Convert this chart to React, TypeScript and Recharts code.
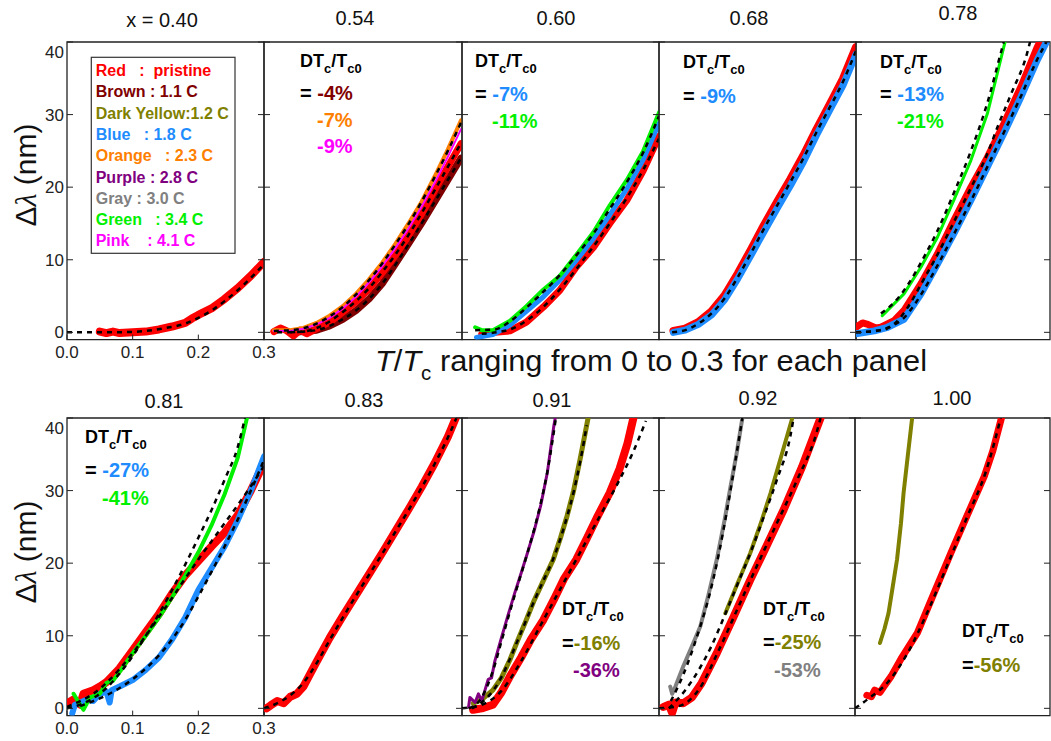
import React from 'react';
import { LineChart, Line, XAxis, YAxis, ReferenceArea } from 'recharts';

// ── Data (x = T/Tc, y = Δλ in nm) ─────────────────────────

const Y_TICKS = [0, 10, 20, 30, 40];
const X_TICKS = [0, 0.1, 0.2, 0.3];

// x = 0.40
const P040_RED = [[0.05,0.1],[0.06,-0.1],[0.07,0.1],[0.08,-0.1],[0.1,0],[0.12,0.1],[0.14,0.4],[0.16,0.8],[0.18,1.3],[0.19,1.9],[0.2,2.4],[0.22,3.3],[0.24,4.6],[0.26,6.1],[0.28,7.8],[0.3,9.7]];
const P040_FIT = [[0,0],[0.06,0],[0.1,0.05],[0.12,0.2],[0.15,0.6],[0.18,1.2],[0.2,2],[0.22,3],[0.24,4.3],[0.26,5.8],[0.28,7.5],[0.3,9.4]];

// x = 0.54
const P054_BROWN = [[0.045,0],[0.06,0.1],[0.08,0.3],[0.1,0.9],[0.12,1.8],[0.14,3],[0.16,4.6],[0.18,6.7],[0.2,9.4],[0.22,12.2],[0.24,15],[0.26,18],[0.28,21],[0.3,24]];
const P054_RED = [[0.015,0.1],[0.025,0.6],[0.035,0.2],[0.045,-0.5],[0.055,0.3],[0.065,-0.2],[0.08,0.5],[0.1,1.4],[0.12,2.8],[0.14,4.2],[0.16,6],[0.18,8.2],[0.2,10.6],[0.22,13.3],[0.24,16.3],[0.26,19.6],[0.28,22.8],[0.3,26]];
const P054_ORANGE = [[0.015,0.3],[0.04,0.3],[0.06,0.6],[0.08,1.3],[0.1,2.3],[0.12,3.6],[0.14,5.3],[0.16,7.3],[0.18,9.6],[0.2,12.2],[0.22,15],[0.24,18],[0.26,21.5],[0.28,25.2],[0.3,29.2]];
const P054_PINK = [[0.015,0.2],[0.04,0.2],[0.06,0.5],[0.08,1.1],[0.1,2],[0.12,3.3],[0.14,4.9],[0.16,6.9],[0.18,9.1],[0.2,11.6],[0.22,14.3],[0.24,17.3],[0.26,20.6],[0.28,24.2],[0.3,28]];
const P054_FIT_O = [[0.015,0.2],[0.05,0.4],[0.08,1.2],[0.1,2.2],[0.12,3.5],[0.14,5.2],[0.16,7.2],[0.18,9.5],[0.2,12.1],[0.22,14.9],[0.24,18],[0.26,21.4],[0.28,25],[0.3,28.9]];
const P054_FIT_R = [[0.02,0],[0.06,0.1],[0.08,0.6],[0.1,1.5],[0.12,2.8],[0.14,4.3],[0.16,6.1],[0.18,8.3],[0.2,10.7],[0.22,13.4],[0.24,16.4],[0.26,19.6],[0.28,22.8],[0.3,26.1]];
const P054_FIT_B = [[0.04,0],[0.08,0.3],[0.1,0.9],[0.12,1.8],[0.14,3],[0.16,4.6],[0.18,6.7],[0.2,9.3],[0.22,12.1],[0.24,15],[0.26,18],[0.28,21],[0.3,24]];

// x = 0.60
const P060_GREEN = [[0.02,0.7],[0.03,0.3],[0.047,0.3],[0.073,1.6],[0.098,3.6],[0.124,5.9],[0.149,7.8],[0.174,10.7],[0.2,13.8],[0.225,17.5],[0.251,21],[0.276,25],[0.3,30.3]];
const P060_BLUE = [[0.022,-0.7],[0.047,-0.3],[0.073,1],[0.098,2.9],[0.124,4.9],[0.149,7.2],[0.174,9.9],[0.2,12.9],[0.225,16.2],[0.251,19.8],[0.276,23.8],[0.3,28.8]];
const P060_RED = [[0.03,-0.3],[0.05,0],[0.073,0.2],[0.098,1.4],[0.124,3.5],[0.149,5.8],[0.174,9],[0.2,11.7],[0.225,15],[0.251,18.2],[0.276,22.3],[0.3,27]];
const P060_FIT_G = [[0.02,0.3],[0.05,0.4],[0.073,1.5],[0.098,3.4],[0.124,5.6],[0.149,7.9],[0.174,10.6],[0.2,13.6],[0.225,17],[0.251,20.7],[0.276,24.8],[0.3,29.8]];
const P060_FIT_R = [[0.03,-0.2],[0.073,0.4],[0.098,1.6],[0.124,3.5],[0.149,5.9],[0.174,8.7],[0.2,11.8],[0.225,15],[0.251,18.5],[0.276,22.4],[0.3,26.7]];

// x = 0.68
const P068_RED = [[0.022,0.2],[0.04,0.5],[0.06,1.4],[0.08,2.9],[0.1,5.1],[0.12,8.1],[0.14,11.4],[0.16,14.8],[0.18,18],[0.2,21.1],[0.22,24.4],[0.24,28],[0.26,31.4],[0.28,34.9],[0.3,39.3]];
const P068_BLUE = [[0.022,0],[0.04,0.3],[0.06,1.1],[0.08,2.4],[0.1,4.5],[0.12,7.4],[0.14,10.6],[0.16,13.9],[0.18,17.1],[0.2,20.2],[0.22,23.5],[0.24,27.2],[0.26,30.6],[0.28,34],[0.3,38.3]];
const P068_FIT = [[0.02,0],[0.04,0.3],[0.06,1.2],[0.08,2.6],[0.1,4.7],[0.12,7.6],[0.14,10.9],[0.16,14.3],[0.18,17.5],[0.2,20.7],[0.22,24],[0.24,27.6],[0.26,31],[0.28,34.5],[0.3,38.8]];

// x = 0.78
const P078_RED = [[0,0.7],[0.01,1.3],[0.018,1.1],[0.03,0.6],[0.038,0.7],[0.058,1.6],[0.073,3],[0.099,6.7],[0.124,10.8],[0.149,15.4],[0.175,20],[0.2,24.1],[0.225,28.7],[0.251,33.8],[0.276,39.3],[0.28,40]];
const P078_BLUE = [[0,-0.2],[0.028,0.2],[0.048,0.7],[0.073,1.8],[0.099,5.3],[0.124,9.4],[0.149,13.6],[0.175,18.2],[0.2,22.8],[0.225,27.4],[0.251,32.4],[0.276,37.5],[0.29,40]];
const P078_GREEN = [[0.04,2.3],[0.073,5.3],[0.099,9],[0.124,13.1],[0.149,18.2],[0.175,23.7],[0.2,30.1],[0.225,39.3],[0.227,40]];
const P078_FIT_G = [[0.038,2.6],[0.06,4.3],[0.08,6.7],[0.1,9.8],[0.124,14],[0.149,19.2],[0.175,25],[0.2,31.6],[0.222,39],[0.225,40]];
const P078_FIT_R = [[0,0],[0.04,0.3],[0.06,1.3],[0.08,3.6],[0.1,6.8],[0.124,10.7],[0.149,15.2],[0.175,19.9],[0.2,24.6],[0.216,28.4],[0.236,32.8],[0.261,38.6],[0.265,40]];
const P078_FIT_B = [[0,0],[0.03,0.2],[0.05,0.7],[0.073,2],[0.099,5.2],[0.124,9.2],[0.149,13.5],[0.175,18.1],[0.2,22.8],[0.225,27.5],[0.251,32.5],[0.276,37.6],[0.29,40]];

// x = 0.81
const P081_RED = [[0,0.7],[0.01,1.2],[0.02,0.5],[0.025,2],[0.04,2.5],[0.05,3],[0.06,3.6],[0.08,5.5],[0.1,8],[0.12,10.5],[0.14,13],[0.16,15.8],[0.18,18.3],[0.2,20.3],[0.22,22.3],[0.24,24.2],[0.26,26.6],[0.28,30],[0.3,33.8]];
const P081_BLUE = [[0.008,-0.7],[0.012,0.5],[0.018,0.7],[0.03,1.2],[0.04,1],[0.05,2],[0.06,2.3],[0.065,0.8],[0.068,2.5],[0.08,3],[0.1,3.9],[0.12,5.3],[0.14,7],[0.16,9.5],[0.18,12.5],[0.2,16.3],[0.22,19.3],[0.24,22.3],[0.26,25.9],[0.28,30],[0.3,34.7]];
const P081_GREEN = [[0.01,2],[0.02,0.5],[0.025,-0.2],[0.035,1.5],[0.05,2],[0.06,3.5],[0.07,3.8],[0.08,5],[0.1,7.6],[0.12,10],[0.14,12.5],[0.16,15.3],[0.18,18.3],[0.2,21.5],[0.22,25.2],[0.24,29.5],[0.26,34.5],[0.274,40]];
const P081_FIT_G = [[0,0],[0.02,0.5],[0.04,1.4],[0.06,2.8],[0.08,4.8],[0.1,7.2],[0.12,10],[0.14,13],[0.16,16.3],[0.18,19.8],[0.2,23.5],[0.22,27.3],[0.24,31.5],[0.26,36],[0.271,40]];
const P081_FIT_R = [[0,0.2],[0.02,1],[0.04,2],[0.06,3.5],[0.08,5.4],[0.1,7.6],[0.12,10],[0.14,12.6],[0.16,15.2],[0.18,17.9],[0.2,20.5],[0.22,23],[0.24,25.5],[0.26,28],[0.28,30.6],[0.3,33.4]];
const P081_FIT_B = [[0.02,0.3],[0.04,1],[0.06,1.8],[0.08,2.8],[0.1,4],[0.12,5.5],[0.14,7.3],[0.16,9.5],[0.18,12.2],[0.2,15.4],[0.22,18.8],[0.24,22.3],[0.26,26],[0.28,30],[0.3,34.2]];

// x = 0.83
const P083_RED = [[0.004,0],[0.01,0.4],[0.02,1],[0.03,0.7],[0.04,1.6],[0.05,2],[0.06,3],[0.08,6.4],[0.1,9.7],[0.12,12.7],[0.14,15.6],[0.16,18.5],[0.18,21.4],[0.2,24.4],[0.22,27.4],[0.24,30.5],[0.26,33.8],[0.28,37.4],[0.292,40]];
const P083_FIT = [[0,0],[0.02,0.7],[0.04,1.8],[0.06,3.5],[0.08,6.2],[0.1,9.4],[0.12,12.5],[0.14,15.5],[0.16,18.4],[0.18,21.3],[0.2,24.3],[0.22,27.3],[0.24,30.4],[0.26,33.7],[0.28,37.3],[0.293,40]];

// x = 0.91
const P091_PURPLE = [[0.01,0.2],[0.012,1.5],[0.02,0.8],[0.025,2],[0.03,1],[0.035,2.5],[0.04,4],[0.045,4.2],[0.05,6.5],[0.06,9.7],[0.07,12.8],[0.08,15.8],[0.09,18.6],[0.1,21.5],[0.11,24.5],[0.12,28],[0.13,32.5],[0.14,39],[0.142,40]];
const P091_OLIVE = [[0.017,0.7],[0.03,1.2],[0.047,2.5],[0.06,4.2],[0.073,6.7],[0.085,9.4],[0.098,12.2],[0.11,14.9],[0.125,17.8],[0.139,20.5],[0.15,23.5],[0.16,26.5],[0.17,30],[0.18,34.4],[0.192,40]];
const P091_RED = [[0.017,-0.2],[0.03,0],[0.047,0.5],[0.06,2.2],[0.073,4.4],[0.09,7],[0.105,9.5],[0.124,12.2],[0.14,15],[0.155,17.8],[0.174,20.5],[0.19,23.4],[0.205,26.2],[0.225,29.7],[0.24,33],[0.252,36.5],[0.261,40]];
const P091_FIT_P = [[0.01,0],[0.03,1.5],[0.04,3.4],[0.05,6],[0.06,9.2],[0.07,12.4],[0.08,15.5],[0.09,18.5],[0.1,21.5],[0.11,24.7],[0.12,28.3],[0.13,32.6],[0.138,37],[0.143,40]];
const P091_FIT_O = [[0.015,0],[0.03,0.8],[0.047,2.4],[0.06,4.3],[0.073,6.8],[0.085,9.4],[0.098,12.2],[0.11,14.8],[0.125,17.8],[0.139,20.6],[0.15,23.4],[0.16,26.4],[0.17,29.8],[0.18,34],[0.19,39]];
const P091_FIT_R = [[0,0],[0.03,0.5],[0.06,2.4],[0.09,6.5],[0.12,11.5],[0.15,16.5],[0.18,21.5],[0.21,26.5],[0.24,31.5],[0.26,35.2],[0.28,39.6]];

// x = 0.92
const P092_GRAY = [[0.017,3],[0.02,2],[0.025,3],[0.037,5.8],[0.05,8.5],[0.063,11.3],[0.075,15.5],[0.088,20.5],[0.1,26],[0.109,30.6],[0.118,35],[0.127,40]];
const P092_OLIVE = [[0.101,13.1],[0.12,17.3],[0.139,21.4],[0.155,25.5],[0.17,29.7],[0.187,35],[0.203,40]];
const P092_RED = [[0.007,0.2],[0.015,0.5],[0.02,-0.6],[0.025,0.8],[0.037,0.7],[0.05,1.5],[0.065,3.5],[0.088,7.6],[0.113,12.5],[0.139,17.7],[0.165,22.6],[0.19,27.4],[0.218,33.3],[0.246,40]];
const P092_FIT_G = [[0.018,1],[0.03,3.2],[0.045,6.5],[0.06,10.5],[0.075,15],[0.09,20.8],[0.105,28],[0.118,35],[0.127,40]];
const P092_FIT_O = [[0.015,0],[0.04,2.5],[0.06,5.2],[0.08,8.6],[0.1,12.8],[0.12,17.2],[0.14,21.6],[0.16,26.5],[0.18,31.6],[0.2,37.5],[0.205,40]];
const P092_FIT_R = [[0,0],[0.03,0.3],[0.06,2.5],[0.09,7.8],[0.12,13.8],[0.15,19.8],[0.18,25.6],[0.21,31.4],[0.24,38],[0.246,40]];

// x = 1.00
const P100_OLIVE = [[0.038,9],[0.045,11],[0.051,13.1],[0.057,16.5],[0.064,20.5],[0.07,25.5],[0.074,29.7],[0.08,34.5],[0.087,40]];
const P100_RED = [[0.018,1.8],[0.025,1.6],[0.03,2.5],[0.038,2.2],[0.044,3],[0.055,4.4],[0.07,6.8],[0.095,10.4],[0.12,15.8],[0.146,21.4],[0.17,26.4],[0.197,32],[0.21,35.5],[0.223,40]];
const P100_FIT = [[0,0],[0.02,1.3],[0.05,3.6],[0.08,7.6],[0.11,13.2],[0.14,19.6],[0.17,26.2],[0.2,32.8],[0.222,40]];

// ── Colors ────────────────────────────────────────────────

const C = {
  red: '#ff0000',
  brown: '#800000',
  olive: '#808000',
  blue: '#1e8cff',
  orange: '#ff8000',
  purple: '#800080',
  gray: '#808080',
  green: '#00f000',
  pink: '#ff00ff',
};

const LEGEND = [
  ['Red   :  pristine', C.red],
  ['Brown : 1.1 C', C.brown],
  ['Dark Yellow:1.2 C', C.olive],
  ['Blue   : 1.8 C', C.blue],
  ['Orange   : 2.3 C', C.orange],
  ['Purple : 2.8 C', C.purple],
  ['Gray : 3.0 C', C.gray],
  ['Green   : 3.4 C', C.green],
  ['Pink    : 4.1 C', C.pink],
];

const toPts = (a: number[][]) => a.map(([x, y]) => ({ x, y }));

// ── Layout ────────────────────────────────────────────────

const ROW_TOP = [41.7, 418.3];
const PLOT_H = 297.6;
const COL_LEFT = [[67, 264, 462, 659, 856], [67, 264, 462, 659, 855]];
const COL_W = [[197, 198, 197, 197, 194], [197, 198, 197, 196, 195]];
const FONT = '"Liberation Sans", Arial, sans-serif';

type Curve = { data: number[][]; color: string; w: number };

const PANELS: { curves: Curve[]; fits: number[][][] }[][] = [
  [
    { curves: [{ data: P040_RED, color: C.red, w: 8 }], fits: [P040_FIT] },
    {
      curves: [
        { data: P054_BROWN, color: C.brown, w: 7 },
        { data: P054_RED, color: C.red, w: 7 },
        { data: P054_ORANGE, color: C.orange, w: 4 },
        { data: P054_PINK, color: C.pink, w: 2 },
      ],
      fits: [P054_FIT_O, P054_FIT_R, P054_FIT_B],
    },
    {
      curves: [
        { data: P060_RED, color: C.red, w: 7 },
        { data: P060_BLUE, color: C.blue, w: 5 },
        { data: P060_GREEN, color: C.green, w: 4 },
      ],
      fits: [P060_FIT_G, P060_FIT_R],
    },
    {
      curves: [
        { data: P068_RED, color: C.red, w: 8 },
        { data: P068_BLUE, color: C.blue, w: 7 },
      ],
      fits: [P068_FIT],
    },
    {
      curves: [
        { data: P078_RED, color: C.red, w: 7 },
        { data: P078_BLUE, color: C.blue, w: 7 },
        { data: P078_GREEN, color: C.green, w: 3 },
      ],
      fits: [P078_FIT_G, P078_FIT_R, P078_FIT_B],
    },
  ],
  [
    {
      curves: [
        { data: P081_RED, color: C.red, w: 8 },
        { data: P081_BLUE, color: C.blue, w: 6 },
        { data: P081_GREEN, color: C.green, w: 4 },
      ],
      fits: [P081_FIT_G, P081_FIT_R, P081_FIT_B],
    },
    { curves: [{ data: P083_RED, color: C.red, w: 8 }], fits: [P083_FIT] },
    {
      curves: [
        { data: P091_RED, color: C.red, w: 8 },
        { data: P091_OLIVE, color: C.olive, w: 5 },
        { data: P091_PURPLE, color: C.purple, w: 3 },
      ],
      fits: [P091_FIT_P, P091_FIT_O, P091_FIT_R],
    },
    {
      curves: [
        { data: P092_RED, color: C.red, w: 8 },
        { data: P092_OLIVE, color: C.olive, w: 4 },
        { data: P092_GRAY, color: C.gray, w: 4 },
      ],
      fits: [P092_FIT_G, P092_FIT_O, P092_FIT_R],
    },
    {
      curves: [
        { data: P100_RED, color: C.red, w: 7 },
        { data: P100_OLIVE, color: C.olive, w: 4 },
      ],
      fits: [P100_FIT],
    },
  ],
];

const blank = () => '';

// ── One panel ─────────────────────────────────────────────

function Panel({ row, col }: { row: number; col: number }) {
  const axes = col === 0;
  const yw = axes ? 50 : 0;
  const xh = axes ? 30 : 0;
  const mr = axes ? 16 : 0;
  const width = COL_W[row][col];
  const xMax = (0.3 * width) / 197;
  const { curves, fits } = PANELS[row][col];
  const tickStyle = { fontSize: 17, fill: '#222', fontFamily: FONT };
  return (
    <div style={{ position: 'absolute', left: COL_LEFT[row][col] - yw, top: ROW_TOP[row] }}>
      <LineChart width={width + yw + mr} height={PLOT_H + xh} margin={{ top: 0, right: mr, bottom: 0, left: 0 }}>
        <XAxis
          type="number" dataKey="x" domain={[0, xMax]} allowDataOverflow hide={!axes}
          ticks={X_TICKS} tickFormatter={(v: number) => v.toFixed(1)}
          tickLine={false} axisLine={false} tickSize={4} tickMargin={2} height={xh} tick={tickStyle}
        />
        <XAxis
          xAxisId="mx" type="number" dataKey="x" domain={[0, xMax]} allowDataOverflow hide={!axes} mirror
          ticks={X_TICKS} tickFormatter={blank} axisLine={false} tickSize={5} height={1}
          stroke="#222" interval={0}
        />
        <YAxis
          type="number" domain={[-1, 40]} allowDataOverflow hide={!axes} ticks={Y_TICKS}
          width={yw} tickLine={false} axisLine={false} tickSize={1} tickMargin={2} tick={tickStyle}
        />
        <YAxis yAxisId="ml" type="number" domain={[-1, 40]} allowDataOverflow orientation="left" mirror width={1}
          ticks={Y_TICKS} tickFormatter={blank} axisLine={false} tickSize={6} stroke="#222" interval={0} />
        <YAxis yAxisId="mr" type="number" domain={[-1, 40]} allowDataOverflow orientation="right" mirror width={1}
          ticks={Y_TICKS} tickFormatter={blank} axisLine={false} tickSize={6} stroke="#222" interval={0} />
        <ReferenceArea x1={0} x2={xMax} y1={-1} y2={40} fill="none" stroke="#222" strokeWidth={1.3} />
        {curves.map((c, i) => (
          <Line
            key={'c' + i} data={toPts(c.data)} dataKey="y" type="linear" stroke={c.color}
            strokeWidth={c.w} strokeLinejoin="round" strokeLinecap="round" dot={false}
            isAnimationActive={false}
          />
        ))}
        {fits.map((f, i) => (
          <Line
            key={'f' + i} data={toPts(f)} dataKey="y" type="monotone" stroke="#000"
            strokeWidth={2.5} strokeDasharray="5 5" dot={false} isAnimationActive={false}
          />
        ))}
      </LineChart>
    </div>
  );
}

// ── Text overlay ──────────────────────────────────────────

function DTLabel({ x, y }: { x: number; y: number }) {
  return (
    <text x={x} y={y} fontSize={18} fontWeight="bold" fill="#000">
      DT<tspan dy={6} fontSize={13}>c</tspan>
      <tspan dy={-6}>/T</tspan>
      <tspan dy={6} fontSize={13}>c0</tspan>
    </text>
  );
}

function Pct({ x, y, eq, value, color }: { x: number; y: number; eq?: string; value: string; color: string }) {
  return (
    <text x={x} y={y} fontSize={20} fontWeight="bold" style={{ whiteSpace: 'pre' }}>
      {eq && <tspan fill="#000">{eq}</tspan>}
      <tspan fill={color}>{value}</tspan>
    </text>
  );
}

const TITLES = [
  { t: 'x = 0.40', x: 162, y: 27 },
  { t: '0.54', x: 355, y: 25 },
  { t: '0.60', x: 556, y: 25 },
  { t: '0.68', x: 749, y: 25 },
  { t: '0.78', x: 958, y: 20 },
  { t: '0.81', x: 164, y: 408 },
  { t: '0.83', x: 364, y: 407 },
  { t: '0.91', x: 552, y: 407 },
  { t: '0.92', x: 758, y: 405 },
  { t: '1.00', x: 952, y: 405 },
];

function Overlay() {
  return (
    <svg width={1051} height={741} style={{ position: 'absolute', left: 0, top: 0, pointerEvents: 'none', fontFamily: FONT }}>
      {TITLES.map((t) => (
        <text key={t.t} x={t.x} y={t.y} fontSize={20} textAnchor="middle" fill="#111">{t.t}</text>
      ))}

      {[175, 552].map((cy) => (
        <text key={cy} x={0} y={0} fontSize={30} textAnchor="middle" fill="#111"
          transform={`translate(36, ${cy}) rotate(-90)`}>
          Δ<tspan fontFamily='"Liberation Serif", serif' fontStyle="italic">λ</tspan> (nm)
        </text>
      ))}

      <text x={375} y={371} fontSize={30} fill="#111" textLength={552} lengthAdjust="spacingAndGlyphs">
        <tspan fontStyle="italic">T</tspan>/<tspan fontStyle="italic">T</tspan>
        <tspan dy={9} fontSize={20}>c</tspan>
        <tspan dy={-9}> ranging from 0 to 0.3 for each panel</tspan>
      </text>

      <rect x={91.3} y={57.3} width={143.7} height={196} fill="#fff" stroke="#333" strokeWidth={1.2} />
      {LEGEND.map(([label, color], i) => (
        <text key={label} x={95.7} y={76 + i * 21.3} fontSize={16} fontWeight="bold" fill={color} style={{ whiteSpace: 'pre' }}>
          {label}
        </text>
      ))}

      <DTLabel x={300} y={67} />
      <Pct x={300} y={100} eq="= " value="-4%" color={C.brown} />
      <Pct x={317} y={127} value="-7%" color={C.orange} />
      <Pct x={317} y={153} value="-9%" color={C.pink} />

      <DTLabel x={475} y={67} />
      <Pct x={475} y={101} eq="= " value="-7%" color={C.blue} />
      <Pct x={492} y={128} value="-11%" color={C.green} />

      <DTLabel x={683} y={68} />
      <Pct x={683} y={103} eq="= " value="-9%" color={C.blue} />

      <DTLabel x={880} y={68} />
      <Pct x={880} y={101} eq="= " value="-13%" color={C.blue} />
      <Pct x={897} y={128} value="-21%" color={C.green} />

      <DTLabel x={85} y={443} />
      <Pct x={85} y={477} eq="= " value="-27%" color={C.blue} />
      <Pct x={102} y={505} value="-41%" color={C.green} />

      <DTLabel x={562} y={615} />
      <Pct x={562} y={650} eq="=" value="-16%" color={C.olive} />
      <Pct x={573} y={677} value="-36%" color={C.purple} />

      <DTLabel x={763} y={615} />
      <Pct x={763} y={649} eq="=" value="-25%" color={C.olive} />
      <Pct x={774} y={677} value="-53%" color={C.gray} />

      <DTLabel x={962} y={637} />
      <Pct x={962} y={672} eq="=" value="-56%" color={C.olive} />
    </svg>
  );
}

export default function App() {
  return (
    <div style={{ position: 'absolute', left: 0, top: 0, width: 1051, height: 741, background: '#fff', overflow: 'hidden', fontFamily: FONT }}>
      <style>{'.recharts-surface { overflow: visible; } .recharts-wrapper { overflow: visible !important; }'}</style>
      {[0, 1].map((row) => [0, 1, 2, 3, 4].map((col) => <Panel key={`${row}-${col}`} row={row} col={col} />))}
      <Overlay />
    </div>
  );
}
